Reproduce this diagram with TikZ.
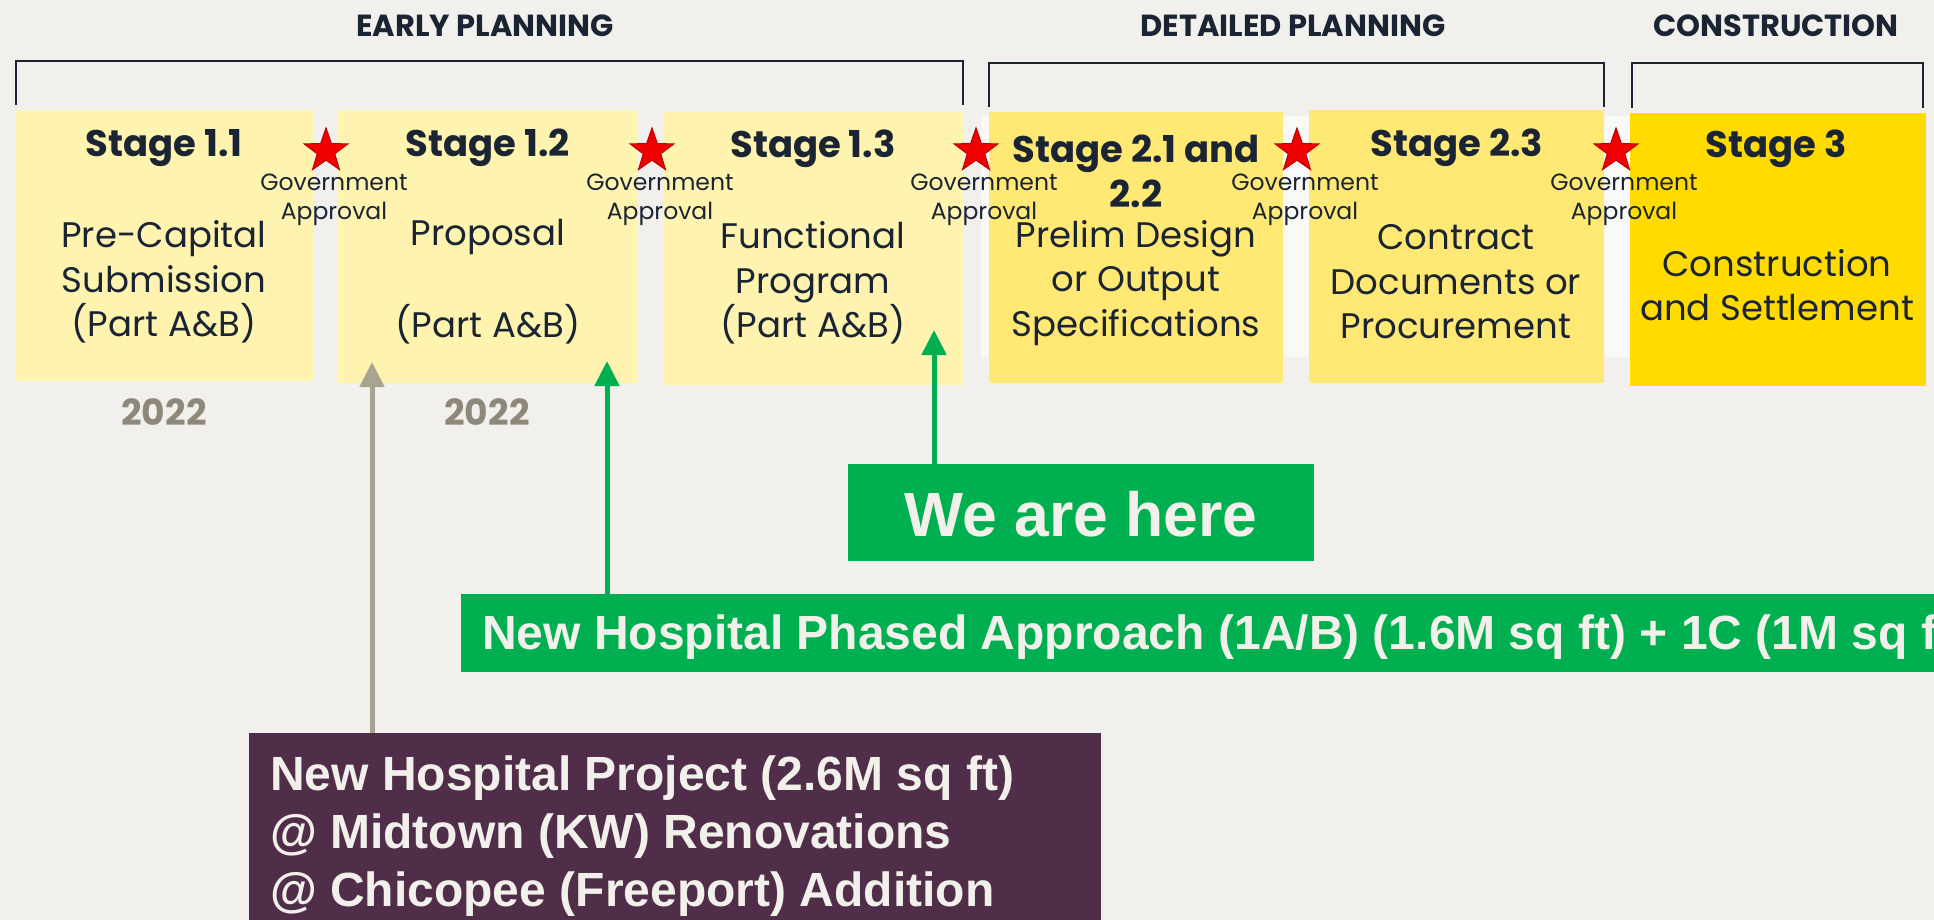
\documentclass[tikz,border=0pt]{standalone}
\usepackage{fontspec}
\setmainfont{Poppins}
\newfontfamily\arialfont{Liberation Sans}
\usetikzlibrary{shapes.geometric,arrows.meta}
\definecolor{bgc}{HTML}{F1F0EC}
\definecolor{bandc}{HTML}{F9F9F7}
\definecolor{navy}{HTML}{1B2433}
\definecolor{s1c}{HTML}{FFF3B0}
\definecolor{s2c}{HTML}{FFE974}
\definecolor{s3c}{HTML}{FFDB00}
\definecolor{starred}{HTML}{F00000}
\definecolor{stardark}{HTML}{C00000}
\definecolor{yearc}{HTML}{8F887A}
\definecolor{grayarrow}{HTML}{A9A392}
\definecolor{greenc}{HTML}{00AF50}
\definecolor{purplec}{HTML}{502D48}
\definecolor{lighttext}{HTML}{F2F0EA}
\begin{document}
\begin{tikzpicture}[x=1pt,y=-1pt,
  stagebox/.style={inner sep=0pt, outer sep=0pt, anchor=north west},
  title/.style={font=\fontsize{37}{45}\selectfont\bfseries, text=navy, align=center, inner sep=0pt},
  body/.style={font=\fontsize{35.5}{44.5}\selectfont, text=navy, align=center, inner sep=0pt},
  govstar/.style={star, star points=5, star point ratio=2.5, minimum size=46pt, inner sep=0pt, fill=starred, draw=stardark, line width=1pt},
  govtext/.style={font=\fontsize{23.5}{29.5}\selectfont, text=navy, align=center, inner sep=0pt},
  heading/.style={font=\fontsize{30.5}{32}\selectfont\bfseries, text=navy, inner sep=0pt},
  year/.style={font=\fontsize{36}{36}\selectfont\bfseries, text=yearc, inner sep=0pt},
  bracket/.style={draw=navy, line width=2.5pt},
  colorbox/.style={inner sep=0pt, outer sep=0pt, anchor=north west},
  boxtext/.style={font=\arialfont\bfseries\fontsize{48}{58}\selectfont, text=lighttext, align=left, inner sep=0pt},
  arrowline/.style={line width=5pt, -{Triangle[length=25pt,width=24pt]}},
]
\useasboundingbox (0,0) rectangle (1934,920);
\fill[bgc] (0,0) rectangle (1934,920);
\clip (0,0) rectangle (1934,920);

% headings and brackets
\node[heading] (h1) at (485,26) {EARLY PLANNING};
\node[heading] (h2) at (1293,26) {DETAILED PLANNING};
\node[heading] (h3) at (1776,26) {CONSTRUCTION};
\draw[bracket] (16,105) -- (16,61) -- (963,61) -- (963,105);
\draw[bracket] (989,107) -- (989,63) -- (1604,63) -- (1604,107);
\draw[bracket] (1632,108) -- (1632,63) -- (1923,63) -- (1923,108);

% band behind detailed planning
\fill[bandc] (981,116) rectangle (1640,357);

% stage boxes
\node[stagebox, fill=s1c, minimum width=299pt, minimum height=271pt] (s11) at (15,110) {};
\node[stagebox, fill=s1c, minimum width=300pt, minimum height=273pt] (s12) at (338,110) {};
\node[stagebox, fill=s1c, minimum width=300pt, minimum height=273pt] (s13) at (664,112) {};
\node[stagebox, fill=s2c, minimum width=294pt, minimum height=271pt] (s21) at (989,112) {};
\node[stagebox, fill=s2c, minimum width=295pt, minimum height=273pt] (s23) at (1309,110) {};
\node[stagebox, fill=s3c, minimum width=296pt, minimum height=273pt] (s3) at (1630,113) {};

% titles
\node[title] (t11) at (164,148) {Stage 1.1};
\node[title] (t12) at (488,148) {Stage 1.2};
\node[title] (t13) at (813,149) {Stage 1.3};
\node[title] (t21) at (1136,171) {Stage 2.1 and\\2.2};
\node[title] (t23) at (1457,148) {Stage 2.3};
\node[title] (t3) at (1776,149) {Stage 3};

% bodies
\node[body] (b11) at (164,282) {Pre-Capital\\Submission\\(Part A\&B)};
\node[body] (b12) at (488,282) {Proposal\\\strut\\(Part A\&B)};
\node[body] (b13) at (813,283) {Functional\\Program\\(Part A\&B)};
\node[body] (b21) at (1136,283) {Prelim Design\\or Output\\Specifications};
\node[body] (b23) at (1456,282) {Contract\\Documents or\\Procurement};
\node[body] (b3) at (1777,285) {Construction\\and Settlement};

% stars and approvals
\foreach \i/\x in {1/326,2/652,3/976,4/1297,5/1616}{
  \node[govstar] (star\i) at (\x,151) {};
  \node[govtext] (gov\i) at (\x+8,200) {Government\\Approval};
}

% years
\node[year] (y1) at (164,412) {2022};
\node[year] (y2) at (487,412) {2022};

% bottom boxes
\node[colorbox, fill=purplec, minimum width=852pt, minimum height=200pt] (proj) at (249,733) {};
\node[boxtext, anchor=west] (projtext) at (270,836) {New Hospital Project (2.6M sq ft)\\@ Midtown (KW) Renovations\\@ Chicopee (Freeport) Addition};
\node[colorbox, fill=greenc, minimum width=1600pt, minimum height=78pt] (phased) at (461,594) {};
\node[boxtext, anchor=west] (phasedtext) at (482,637) {New Hospital Phased Approach (1A/B) (1.6M sq ft) + 1C (1M sq ft)};
\node[colorbox, fill=greenc, minimum width=466pt, minimum height=97pt] (here) at (848,464) {};
\node[boxtext, font=\arialfont\bfseries\fontsize{62.5}{62.5}\selectfont] (heretext) at ([yshift=-2pt]here.center) {We are here};

% arrows
\coordinate (gtip) at (372,362);
\coordinate (g1tip) at (607,361);
\coordinate (g2tip) at (934,330);
\draw[arrowline, draw=grayarrow] (proj.north -| gtip) -- (gtip);
\draw[arrowline, draw=greenc] (phased.north -| g1tip) -- (g1tip);
\draw[arrowline, draw=greenc] (here.north -| g2tip) -- (g2tip);
\end{tikzpicture}
\end{document}
